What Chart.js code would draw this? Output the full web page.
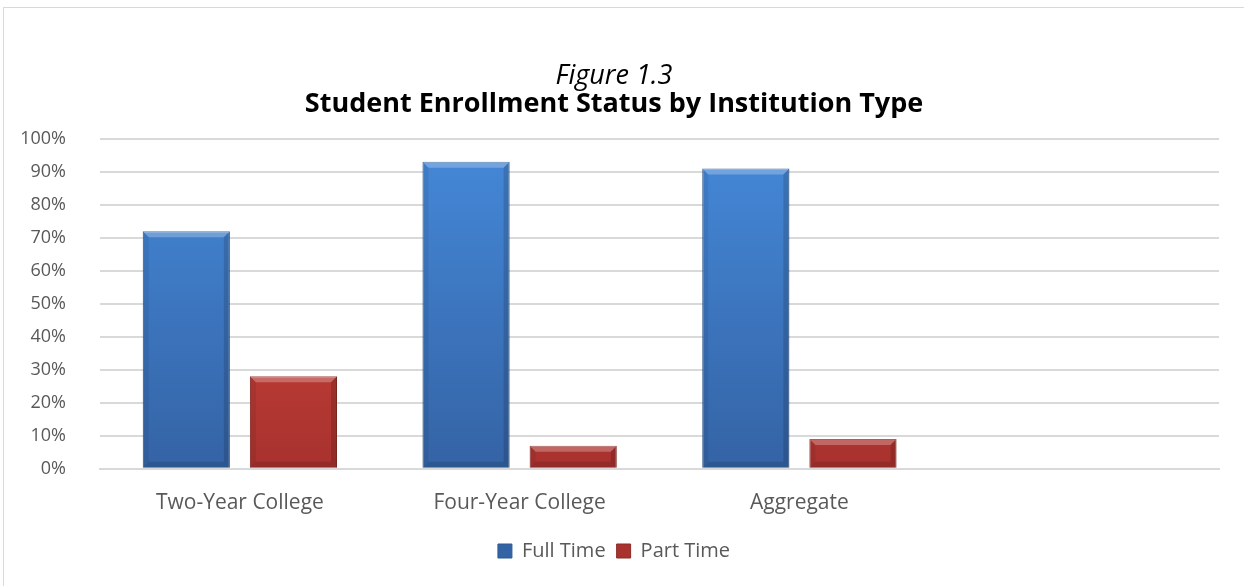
<!DOCTYPE html>
<html>
<head>
<meta charset="utf-8">
<script src="https://cdn.jsdelivr.net/npm/chart.js@4"></script>
<style>
  body { margin: 0; background: #fff; }
  .frame {
    position: absolute; left: 3px; top: 7px;
    width: 1260px; height: 600px;
    border: 1px solid #d9d9d9;
  }
  .box { position: absolute; left: 0; top: 0; width: 1241px; height: 579px; }
</style>
</head>
<body>
<div class="frame">
  <div class="box"><canvas id="chart"></canvas></div>
</div>
<script>
const categories = ["Two-Year College", "Four-Year College", "Aggregate", ""];
const fullTime = [72, 93, 91, null];
const partTime = [28, 7, 9, null];

const FONT = "'Open Sans', Lato, sans-serif";

// vertical gradient for the Excel-looking bars
function barFill(top, bottom) {
  return (ctx) => {
    const area = ctx.chart.chartArea;
    if (!area) return bottom;
    const g = ctx.chart.ctx.createLinearGradient(0, area.top, 0, area.bottom);
    g.addColorStop(0, top);
    g.addColorStop(1, bottom);
    return g;
  };
}

// little bevel on every bar: light top edge, darker sides and bottom
const bevel = {
  id: "bevel",
  afterDatasetsDraw(chart) {
    const c = chart.ctx;
    chart.data.datasets.forEach((ds, i) => {
      const meta = chart.getDatasetMeta(i);
      meta.data.forEach((bar) => {
        if (bar.y == null || isNaN(bar.y)) return;
        const l = bar.x - bar.width / 2, r = bar.x + bar.width / 2;
        const t = bar.y, b = bar.base;
        const d = Math.min(6, (b - t) / 2);
        const poly = (pts, col) => {
          c.beginPath();
          c.moveTo(pts[0][0], pts[0][1]);
          pts.slice(1).forEach((p) => c.lineTo(p[0], p[1]));
          c.closePath();
          c.fillStyle = col;
          c.fill();
        };
        c.save();
        poly([[l, t], [r, t], [r - d, t + d], [l + d, t + d]], "rgba(255,255,255,0.25)");
        poly([[l, t], [l + d, t + d], [l + d, b - d], [l, b]], "rgba(0,0,0,0.07)");
        poly([[r, t], [r - d, t + d], [r - d, b - d], [r, b]], "rgba(0,0,0,0.14)");
        poly([[l, b], [l + d, b - d], [r - d, b - d], [r, b]], "rgba(0,0,0,0.12)");
        c.restore();
      });
    });
  },
};

new Chart(document.getElementById("chart"), {
  type: "bar",
  data: {
    labels: categories,
    datasets: [
      {
        label: "Full Time",
        data: fullTime,
        backgroundColor: barFill("#4589d9", "#3463a5"),
        borderColor: "#2c5a94",
        borderWidth: 1,
        categoryPercentage: 0.766,
        barPercentage: 0.813,
      },
      {
        label: "Part Time",
        data: partTime,
        backgroundColor: barFill("#dc4a43", "#a8322e"),
        borderColor: "#8e2a27",
        borderWidth: 1,
        categoryPercentage: 0.766,
        barPercentage: 0.813,
      },
    ],
  },
  plugins: [bevel],
  options: {
    responsive: true,
    maintainAspectRatio: false,
    animation: false,
    layout: { padding: { left: 5, right: 26, top: 54, bottom: 16 } },
    plugins: {
      title: {
        display: true,
        text: "Figure 1.3",
        color: "#000",
        font: { family: FONT, size: 27, style: "italic", weight: "normal", lineHeight: 1.05 },
        padding: { top: 0, bottom: 0 },
      },
      subtitle: {
        display: true,
        text: "Student Enrollment Status by Institution Type",
        color: "#000",
        font: { family: FONT, size: 27, weight: "bold", lineHeight: 1.05 },
        padding: { top: 0, bottom: 20 },
      },
      legend: {
        position: "bottom",
        labels: {
          color: "#595959",
          font: { family: FONT, size: 20 },
          boxWidth: 14,
          boxHeight: 14,
          padding: 11,
        },
      },
      tooltip: { enabled: false },
    },
    scales: {
      x: {
        grid: { display: false },
        border: { color: "#d9d9d9", width: 2 },
        ticks: { color: "#595959", font: { family: FONT, size: 21 }, padding: 14 },
      },
      y: {
        min: 0,
        max: 100,
        afterFit: (scale) => { scale.width = 91; },
        ticks: {
          stepSize: 10,
          color: "#595959",
          font: { family: FONT, size: 18 },
          padding: 34,
          callback: (v) => v + "%",
        },
        grid: { color: "#d9d9d9", lineWidth: 2, drawTicks: false },
        border: { display: false },
      },
    },
  },
});
</script>
</body>
</html>
